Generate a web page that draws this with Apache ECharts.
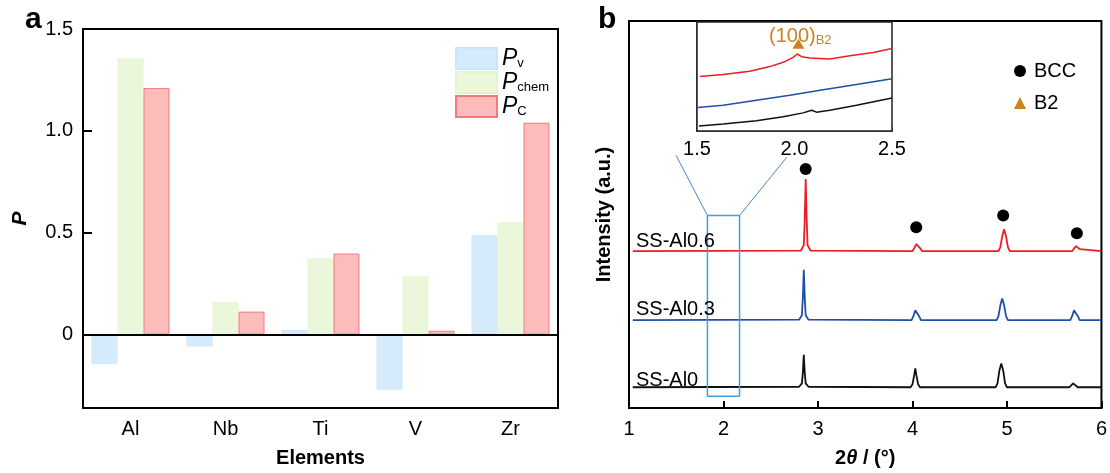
<!DOCTYPE html>
<html><head><meta charset="utf-8">
<script src="https://cdn.jsdelivr.net/npm/echarts@6/dist/echarts.min.js"></script>
<style>html,body{margin:0;padding:0;background:#fff}#c{width:1110px;height:473px}</style>
</head><body><div id="c"></div>
<script>
// ---------- Panel a data ----------
const elements = ['Al', 'Nb', 'Ti', 'V', 'Zr'];
const Pv    = [-0.145, -0.058, 0.024, -0.271, 0.489];
const Pchem = [1.355, 0.160, 0.374, 0.285, 0.552];
const PC    = [1.210, 0.113, 0.398, 0.019, 1.040];
const aTicks = [0, 0.5, 1.0, 1.5];

// ---------- Panel b data (2θ, intensity a.u., offset stacked) ----------
const xrdAl0 = [[1.04,21],[2.80,21.5],[2.83,25],[2.84,36],[2.85,54],[2.86,36],[2.87,25],[2.90,21.5],[3.98,21],[4.00,24],[4.02,34],[4.03,40],[4.04,34],[4.06,24],[4.08,21],[4.88,21],[4.90,25],[4.92,38],[4.94,45],[4.96,38],[4.98,25],[5.00,21],[5.66,21],[5.68,23],[5.70,25],[5.72,23],[5.75,21],[6.0,21]];
const xrdAl03 = [[1.04,89],[2.80,89.5],[2.83,94],[2.84,112],[2.85,140],[2.86,112],[2.87,94],[2.90,89.5],[3.99,89],[4.01,93],[4.03,99],[4.04,101],[4.05,99],[4.07,93],[4.09,89],[4.89,89],[4.91,93],[4.93,104],[4.95,111],[4.97,104],[4.99,93],[5.01,89],[5.67,89],[5.69,93],[5.71,99],[5.72,100],[5.73,99],[5.75,93],[5.77,89],[6.0,89]];
const xrdAl06 = [[1.04,159],[2.82,159.5],[2.85,165],[2.86,192],[2.87,232],[2.88,192],[2.89,165],[2.92,159.5],[4.00,159],[4.02,162],[4.04,166],[4.05,167.5],[4.06,166],[4.08,162],[4.10,159],[4.91,159],[4.93,163],[4.95,174],[4.97,181],[4.99,174],[5.01,163],[5.03,159],[5.69,159],[5.71,161],[5.73,164],[5.74,164],[5.75,163],[5.77,161],[5.79,159],[6.0,159]];
const bccMarks = [[2.87,242],[4.04,183],[4.96,195],[5.74,177]];
const zoomBox = [[1.83,195],[2.17,195],[2.17,12],[1.83,12],[1.83,195]];
const zoomLinkL = [[1.497,256],[1.83,195]];
const zoomLinkR = [[2.67,254],[2.17,195]];

// ---------- Inset data ----------
const insAl06 = [[1.514,55],[1.634,57],[1.771,60.3],[1.873,65],[1.942,69.3],[1.993,74.3],[2.014,77.7],[2.036,75],[2.079,73.7],[2.181,72.7],[2.284,76],[2.404,79.3],[2.5,83.3]];
const insAl03 = [[1.505,23.7],[1.634,26],[1.805,31],[1.976,36],[2.147,41.7],[2.318,47],[2.5,52.7]];
const insAl0  = [[1.51,5],[1.634,7],[1.805,10.3],[1.942,14.3],[2.044,18.3],[2.088,21],[2.113,19],[2.181,21],[2.318,26],[2.5,33.3]];
const b2Mark = [[2.02,88]];

const FF = '"Liberation Sans", Arial, sans-serif';
const ORANGE = '#c98420';
const chart = echarts.init(document.getElementById('c'), null, {renderer:'canvas'});

const lineS = (name, data, color, xi, yi, w) => ({
  name, type:'line', data, xAxisIndex:xi, yAxisIndex:yi, symbol:'none',
  lineStyle:{color, width:w}, itemStyle:{color}, silent:true, animation:false, z:3
});

const option = {
  animation:false,
  backgroundColor:'#fff',
  textStyle:{fontFamily:FF},
  grid:[
    {left:83, top:29, width:475, height:384, show:true, borderColor:'#000', borderWidth:2, backgroundColor:'transparent'},
    {left:629, top:21, width:473, height:392, show:true, borderColor:'#000', borderWidth:2, backgroundColor:'transparent'},
    {left:697, top:22, width:195, height:109, show:true, borderColor:'#222', borderWidth:1.5, backgroundColor:'#fff', z:5}
  ],
  legend:[
    {
      data:[{name:'Pv', icon:'rect'},{name:'Pchem', icon:'rect'},{name:'PC', icon:'rect'}],
      orient:'vertical', left:450, top:42,
      itemWidth:41, itemHeight:21, itemGap:1, selectedMode:false,
      formatter: n => '{i|P}{s|' + n.slice(1) + '}',
      textStyle:{ padding:[0,0,0,0], rich:{
        i:{fontStyle:'italic', fontSize:23, fontFamily:FF, color:'#000', lineHeight:22},
        s:{fontSize:13, fontFamily:FF, color:'#000', lineHeight:12, verticalAlign:'bottom'}
      }}
    },
    {
      data:['BCC','B2'], orient:'vertical', left:1009, top:56,
      itemWidth:12, itemHeight:12, itemGap:12, selectedMode:false,
      textStyle:{fontSize:20, fontFamily:FF, color:'#000', padding:[0,0,0,3]}
    }
  ],
  xAxis:[
    {type:'category', gridIndex:0, data:elements,
     axisLine:{onZero:false, lineStyle:{color:'#000', width:2}},
     axisTick:{inside:true, alignWithLabel:true, length:8, lineStyle:{color:'#000', width:2}},
     axisLabel:{fontSize:20, color:'#000', margin:11, fontFamily:FF},
     name:'Elements', nameLocation:'middle', nameGap:40,
     nameTextStyle:{fontSize:20, fontWeight:'bold', color:'#000', fontFamily:FF}},
    {type:'value', gridIndex:1, min:1, max:6, interval:1,
     axisLine:{onZero:false, lineStyle:{color:'#000', width:2}},
     axisTick:{inside:true, length:7, lineStyle:{color:'#000', width:2}},
     axisLabel:{fontSize:20, color:'#000', margin:11, fontFamily:FF},
     splitLine:{show:false},
     name:'{a|2}{t|θ}{a| / (°)}', nameLocation:'middle', nameGap:40,
     nameTextStyle:{rich:{
       a:{fontSize:20, fontWeight:'bold', color:'#000', fontFamily:FF},
       t:{fontSize:20, fontWeight:'bold', fontStyle:'italic', color:'#000', fontFamily:FF}
     }}},
    {type:'value', gridIndex:2, min:1.5, max:2.5, interval:0.5,
     axisLine:{onZero:false, lineStyle:{color:'#222', width:1.5}},
     axisTick:{inside:true, length:4, lineStyle:{color:'#222', width:1.5}},
     axisLabel:{fontSize:20, color:'#000', margin:8, fontFamily:FF, formatter:v=>v.toFixed(1)},
     splitLine:{show:false}}
  ],
  yAxis:[
    {type:'value', gridIndex:0, min:-0.36, max:1.5,
     axisLine:{show:true, onZero:false, lineStyle:{color:'#000', width:2}},
     axisTick:{show:true, inside:true, length:9, customValues:aTicks, lineStyle:{color:'#000', width:2}},
     axisLabel:{fontSize:20, color:'#000', margin:10, fontFamily:FF, customValues:aTicks,
       formatter:v => Math.abs(v) < 1e-9 ? '0' : v.toFixed(1)},
     splitLine:{show:false},
     name:'P', nameLocation:'middle', nameGap:52,
     nameTextStyle:{fontSize:21, fontWeight:'bold', fontStyle:'italic', color:'#000', fontFamily:FF}},
    {type:'value', gridIndex:1, min:0, max:392,
     axisLine:{show:true, onZero:false, lineStyle:{color:'#000', width:2}},
     axisTick:{show:false}, axisLabel:{show:false}, splitLine:{show:false},
     name:'Intensity (a.u.)', nameLocation:'middle', nameGap:15,
     nameTextStyle:{fontSize:20, fontWeight:'bold', color:'#000', fontFamily:FF}},
    {type:'value', gridIndex:2, min:0, max:110,
     axisLine:{show:true, onZero:false, lineStyle:{color:'#222', width:1.5}},
     axisTick:{show:false}, axisLabel:{show:false}, splitLine:{show:false}}
  ],
  series:[
    {name:'Pv', type:'bar', xAxisIndex:0, yAxisIndex:0, data:Pv, barWidth:26, barGap:'0%',
     itemStyle:{color:'#d5ebfb', borderColor:'#cbe6fa', borderWidth:0.5},
     markLine:{silent:true, symbol:'none', label:{show:false}, animation:false,
       lineStyle:{color:'#000', width:2, type:'solid'}, data:[{yAxis:0}]}},
    {name:'Pchem', type:'bar', xAxisIndex:0, yAxisIndex:0, data:Pchem, barWidth:26, barGap:'0%',
     itemStyle:{color:'#ebf7da', borderColor:'#e3f3cc', borderWidth:0.5}},
    {name:'PC', type:'bar', xAxisIndex:0, yAxisIndex:0, data:PC, barWidth:26, barGap:'0%',
     itemStyle:{color:'#fdbcbc', borderColor:'#f47a7a', borderWidth:1}},

    lineS('SS-Al0', xrdAl0, '#111111', 1, 1, 1.8),
    lineS('SS-Al0.3', xrdAl03, '#1f4fa8', 1, 1, 1.8),
    lineS('SS-Al0.6', xrdAl06, '#ee1c25', 1, 1, 1.8),
    lineS('box', zoomBox, '#3fa0e0', 1, 1, 1.5),
    lineS('linkL', zoomLinkL, '#4a88c8', 1, 1, 1),
    lineS('linkR', zoomLinkR, '#4a88c8', 1, 1, 1),
    {name:'BCC', type:'scatter', xAxisIndex:1, yAxisIndex:1, data:bccMarks, symbol:'circle', symbolSize:12,
     itemStyle:{color:'#000', opacity:1}, silent:true, z:4},

    Object.assign(lineS('in0', insAl0, '#111111', 2, 2, 1.5), {z:6}),
    Object.assign(lineS('in3', insAl03, '#1f4fa8', 2, 2, 1.5), {z:6}),
    Object.assign(lineS('in6', insAl06, '#ee1c25', 2, 2, 1.5), {z:6}),
    {name:'B2', type:'scatter', xAxisIndex:2, yAxisIndex:2, data:b2Mark, symbol:'triangle', symbolSize:[12,10],
     itemStyle:{color:ORANGE, opacity:1}, silent:true, z:7}
  ],
  graphic:[
    {type:'text', z:10, style:{text:'a', x:25, y:35, font:'bold 30px '+FF, fill:'#000', verticalAlign:'bottom'}},
    {type:'text', z:10, style:{text:'b', x:598, y:35, font:'bold 30px '+FF, fill:'#000', verticalAlign:'bottom'}},
    {type:'text', z:10, style:{text:'SS-Al0.6', x:636, y:241, font:'20px '+FF, fill:'#000', verticalAlign:'middle'}},
    {type:'text', z:10, style:{text:'SS-Al0.3', x:636, y:309, font:'20px '+FF, fill:'#000', verticalAlign:'middle'}},
    {type:'text', z:10, style:{text:'SS-Al0', x:636, y:380, font:'20px '+FF, fill:'#000', verticalAlign:'middle'}},
    {type:'text', z:20, style:{text:'{a|(100)}{s|B2}', x:769, y:36, verticalAlign:'middle',
      rich:{a:{fontSize:20, fontFamily:FF, fill:ORANGE, color:ORANGE, lineHeight:22},
            s:{fontSize:13, fontFamily:FF, fill:ORANGE, color:ORANGE, lineHeight:12, verticalAlign:'bottom'}}}}
  ]
};
chart.setOption(option);
</script></body></html>
